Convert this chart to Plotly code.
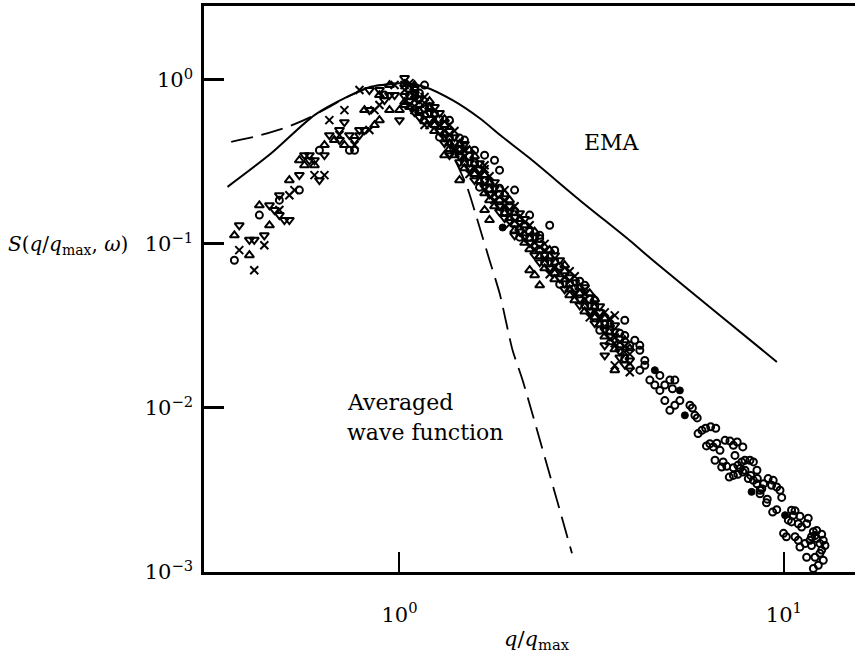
import plotly.graph_objects as go

# ---------------- data ----------------
# EMA curve (solid)
ema_q = [0.357, 0.463, 0.601, 0.733, 0.843, 0.951, 1.03, 1.16, 1.374, 1.614, 1.854, 2.183, 2.944, 3.972, 4.56, 6.81, 9.59]
ema_S = [0.223, 0.356, 0.611, 0.791, 0.910, 0.944, 0.957, 0.910, 0.753, 0.586, 0.449, 0.333, 0.185, 0.105, 0.0796, 0.0368, 0.0191]

# Averaged wave function (dashed)
avg_q = [0.365, 0.419, 0.502, 0.589, 0.733, 0.843, 0.951, 1.03, 1.10, 1.20, 1.30, 1.40, 1.50, 1.615, 1.715, 1.822, 1.969, 2.09, 2.81]
avg_S = [0.420, 0.450, 0.509, 0.596, 0.79, 0.91, 0.944, 0.957, 0.85, 0.65, 0.47, 0.32, 0.222, 0.127, 0.0796, 0.050, 0.0225, 0.0148, 0.0013]

# open circles
circ_q = [0.372, 0.432, 0.487, 0.549, 0.619, 0.741, 0.764, 0.914, 1.162, 1.349, 1.476, 1.568, 1.665, 1.767, 1.821,
          1.993, 2.181, 2.459, 2.316, 2.534, 3.033, 3.221, 3.855,
          1.062, 1.162, 1.271, 1.390, 1.521, 1.665, 1.821, 1.993, 2.181, 2.386, 2.611, 2.857, 3.126, 3.420, 3.742,
          1.062, 1.127, 1.162, 1.233, 1.271, 1.349, 1.433, 1.476, 1.568, 1.615, 1.715, 1.821, 1.877, 1.993, 2.054,
          2.181, 2.316, 2.386, 2.534, 2.611, 2.772, 2.944, 3.033, 3.221, 3.319, 3.524, 3.742, 3.855,
          3.855, 4.094, 4.219, 4.219, 3.973, 4.347, 4.347, 4.219, 4.757, 4.480, 4.616, 4.757, 5.051, 5.204, 4.901,
          5.13, 4.901, 5.204, 5.363, 5.051, 5.695, 5.78, 5.868, 5.95, 5.98, 6.12, 6.26, 6.45, 6.65,
          6.29, 6.42, 6.55, 6.69, 6.82, 7.03, 7.24, 7.39, 7.56, 7.82, 7.46, 6.62, 6.95, 7.10, 6.89, 7.39, 7.59,
          7.77, 7.92, 8.16, 8.33, 7.69, 7.92, 7.21, 7.39, 7.59, 7.82, 8.08, 8.20, 8.51, 8.33, 8.53, 8.67, 8.76,
          8.51, 9.10, 9.38, 9.29, 9.58, 9.77, 9.87, 9.05, 9.01, 8.67, 8.85, 9.35, 9.58, 10.47, 10.69, 10.58,
          11.01, 10.27, 10.47, 10.90, 11.12, 11.57, 11.46, 11.93, 12.05, 12.17, 11.69, 11.80, 12.41, 12.66, 12.79,
          12.54, 12.41, 11.46, 12.05, 12.66, 12.29, 11.93, 9.98, 10.15, 10.69, 10.90, 11.01, 11.35, 11.80, 12.54, 12.17]
circ_S = [0.0796, 0.150, 0.185, 0.213, 0.373, 0.373, 0.373, 0.809, 0.931, 0.569, 0.430, 0.373, 0.348, 0.324, 0.282,
          0.213, 0.150, 0.130, 0.113, 0.0917, 0.0560, 0.0454, 0.0343,
          0.880, 0.665, 0.578, 0.412, 0.343, 0.242, 0.201, 0.144, 0.119, 0.0843, 0.0732, 0.0537, 0.0460, 0.0324, 0.0262,
          0.809, 0.832, 0.611, 0.628, 0.448, 0.448, 0.442, 0.315, 0.315, 0.222, 0.219, 0.219, 0.157, 0.157, 0.110,
          0.110, 0.108, 0.0774, 0.0785, 0.0568, 0.0576, 0.0593, 0.0423, 0.0423, 0.0298, 0.0298, 0.0286, 0.0200,
          0.0277, 0.0259, 0.0241, 0.0225, 0.0241, 0.0195, 0.0182, 0.0170, 0.0158, 0.0148, 0.0138, 0.0128, 0.0148, 0.0148, 0.0138,
          0.0131, 0.0111, 0.0104, 0.0111, 0.00968, 0.0104, 0.0100, 0.00902, 0.0087, 0.00698, 0.00731, 0.00752, 0.00769, 0.00752,
          0.00587, 0.00605, 0.00579, 0.00610, 0.00552, 0.00635, 0.00629, 0.00592, 0.00620, 0.00579, 0.00514, 0.00480, 0.00469, 0.00441, 0.00436, 0.00432, 0.00447,
          0.00469, 0.00480, 0.00480, 0.00469, 0.00427, 0.00417, 0.00379, 0.00388, 0.00394, 0.00407, 0.00371, 0.00388, 0.00417, 0.00362, 0.00371, 0.00300, 0.00322,
          0.00345, 0.00371, 0.00362, 0.00338, 0.00330, 0.00315, 0.00285, 0.00278, 0.00264, 0.00315, 0.00345, 0.00232, 0.00240, 0.00238, 0.00236, 0.00222,
          0.00219, 0.00207, 0.00202, 0.00197, 0.00188, 0.00213, 0.00197, 0.00176, 0.00167, 0.00160, 0.00156, 0.00145, 0.00149, 0.00156, 0.00145,
          0.00136, 0.00130, 0.00123, 0.00123, 0.00118, 0.00110, 0.00105, 0.00172, 0.00164, 0.00164, 0.00156, 0.00142, 0.00149, 0.00164, 0.00170, 0.00179]

# filled circles
dot_q = [4.616, 5.363, 5.526, 8.24, 10.07, 1.855]
dot_S = [0.0170, 0.0128, 0.00902, 0.00308, 0.00222, 0.126]

# crosses
cross_q = [0.445, 0.383, 0.419, 0.487, 0.517, 0.533, 0.601, 0.638, 0.657, 0.719, 0.698, 0.764, 0.835, 0.861, 0.787,
           0.887, 0.971, 1.031, 1.094, 1.094, 1.162, 1.433, 1.665, 1.877, 3.631, 3.631,
           1.031, 1.094, 1.162, 1.233, 1.310, 1.390, 1.476, 1.568, 1.665, 1.767, 1.877, 1.993, 2.116, 2.247, 2.386,
           2.534, 2.690, 2.857, 3.033, 3.221, 3.420, 3.631, 3.855, 3.973,
           1.062, 1.094, 1.162, 1.197, 1.271, 1.349, 1.390, 1.476, 1.521, 1.615, 1.715, 1.767, 1.877, 1.934, 2.054,
           2.181, 2.247, 2.386, 2.459, 2.611, 2.772, 2.857, 3.033, 3.126, 3.319, 3.524, 3.631, 3.855, 3.973]
cross_S = [0.0983, 0.0917, 0.0692, 0.161, 0.198, 0.213, 0.263, 0.263, 0.569, 0.655, 0.461, 0.401, 0.495, 0.655, 0.868,
           0.703, 0.931, 0.931, 0.809, 0.655, 0.531, 0.363, 0.302, 0.213, 0.0367, 0.0182,
           0.868, 0.754, 0.787, 0.578, 0.488, 0.488, 0.343, 0.290, 0.286, 0.201, 0.170, 0.170, 0.119, 0.1016, 0.1002,
           0.0721, 0.0627, 0.0636, 0.0460, 0.0388, 0.0383, 0.0269, 0.0219, 0.0213,
           0.957, 0.693, 0.723, 0.531, 0.531, 0.531, 0.379, 0.373, 0.267, 0.263, 0.259, 0.185, 0.185, 0.132, 0.130,
           0.130, 0.0929, 0.0917, 0.0654, 0.0673, 0.0682, 0.0494, 0.0500, 0.0357, 0.0352, 0.0352, 0.0248, 0.0238, 0.0165]

# triangles (apex up)
tup_q = [0.372, 0.459, 0.407, 0.432, 0.517, 0.549, 0.566, 0.601, 0.638, 0.677, 0.719, 0.861, 0.887, 0.811, 0.887,
         0.942, 1.0, 1.031, 1.094, 0.942, 1.310, 1.433, 1.665, 1.715, 2.181, 2.247, 2.316, 3.631,
         1.031, 1.094, 1.127, 1.162, 1.197, 1.233, 1.310, 1.349, 1.390, 1.433, 1.476, 1.568, 1.615, 1.665, 1.715,
         1.767, 1.877, 1.934, 1.993, 2.054, 2.116, 2.247, 2.316, 2.386, 2.459, 2.534, 2.690, 2.772, 2.857, 2.944,
         3.033, 3.221, 3.319, 3.420, 3.524, 3.631, 3.855, 3.973,
         1.031, 1.062, 1.127, 1.197, 1.233, 1.310, 1.349, 1.433, 1.521, 1.568, 1.665, 1.715, 1.821, 1.934, 1.993,
         2.116, 2.181, 2.316, 2.459, 2.534, 2.690, 2.772, 2.944, 3.126, 3.221, 3.420, 3.524, 3.742, 3.973]
tup_S = [0.113, 0.130, 0.0855, 0.172, 0.245, 0.324, 0.302, 0.302, 0.401, 0.430, 0.401, 0.531, 0.569, 0.655, 0.809,
         0.655, 0.655, 0.703, 0.931, 0.931, 0.348, 0.245, 0.161, 0.140, 0.0692, 0.0645, 0.0560, 0.0170,
         0.733, 0.893, 0.646, 0.561, 0.684, 0.488, 0.578, 0.412, 0.348, 0.407, 0.290, 0.343, 0.242, 0.204, 0.238,
         0.170, 0.201, 0.144, 0.121, 0.142, 0.1016, 0.119, 0.0843, 0.0711, 0.0843, 0.0610, 0.0742, 0.0529, 0.0454, 0.0544,
         0.0388, 0.0460, 0.0324, 0.0273, 0.0324, 0.0228, 0.0259, 0.0179,
         0.944, 0.684, 0.703, 0.743, 0.531, 0.531, 0.379, 0.373, 0.373, 0.267, 0.263, 0.185, 0.185, 0.185, 0.132,
         0.130, 0.0929, 0.0917, 0.0917, 0.0663, 0.0682, 0.0487, 0.0500, 0.0500, 0.0357, 0.0352, 0.0252, 0.0241, 0.0231]

# triangles (apex down)
tdn_q = [0.383, 0.407, 0.419, 0.445, 0.459, 0.473, 0.487, 0.502, 0.517, 0.487, 0.549, 0.566, 0.583, 0.601, 0.583,
         0.619, 0.638, 0.657, 0.719, 0.698, 0.698, 0.741, 0.764, 0.787, 0.811, 0.787, 0.835, 0.835, 0.887, 0.942,
         1.0, 0.971, 0.914, 1.993, 1.349, 3.420, 3.420,
         1.031, 1.062, 1.094, 1.127, 1.197, 1.233, 1.271, 1.310, 1.349, 1.433, 1.476, 1.521, 1.568, 1.615, 1.715,
         1.767, 1.821, 1.877, 1.934, 2.054, 2.116, 2.181, 2.247, 2.316, 2.459, 2.534, 2.611, 2.690, 2.772, 2.944,
         3.033, 3.126, 3.221, 3.319, 3.524, 3.631, 3.742, 3.855,
         1.031, 1.094, 1.127, 1.197, 1.271, 1.310, 1.390, 1.433, 1.521, 1.615, 1.665, 1.767, 1.821, 1.934, 2.054,
         2.116, 2.247, 2.316, 2.459, 2.611, 2.690, 2.857, 2.944, 3.126, 3.319, 3.420, 3.631, 3.742, 3.973]
tdn_S = [0.130, 0.106, 0.106, 0.113, 0.172, 0.161, 0.150, 0.140, 0.140, 0.198, 0.263, 0.348, 0.348, 0.324, 0.324,
         0.245, 0.348, 0.461, 0.553, 0.495, 0.430, 0.461, 0.430, 0.495, 0.495, 0.461, 0.655, 0.868, 0.868, 0.809,
         0.569, 0.809, 0.754, 0.113, 0.348, 0.0241, 0.0209,
         1.027, 0.743, 0.637, 0.765, 0.578, 0.684, 0.488, 0.412, 0.488, 0.343, 0.407, 0.290, 0.245, 0.286, 0.201,
         0.238, 0.170, 0.144, 0.170, 0.119, 0.142, 0.1016, 0.0855, 0.1002, 0.0711, 0.0855, 0.0618, 0.0529, 0.0627, 0.0460,
         0.0544, 0.0388, 0.0329, 0.0383, 0.0273, 0.0319, 0.0222, 0.0184,
         0.798, 0.821, 0.594, 0.628, 0.628, 0.448, 0.448, 0.315, 0.315, 0.311, 0.222, 0.219, 0.157, 0.157, 0.154,
         0.110, 0.110, 0.0774, 0.0774, 0.0796, 0.0576, 0.0584, 0.0423, 0.0423, 0.0417, 0.0298, 0.0294, 0.0203, 0.0195]

x_tickvals = [1, 10]
x_ticktext = ["10<sup>0</sup>", "10<sup>1</sup>"]
y_tickvals = [1, 0.1, 0.01, 0.001]
y_ticktext = ["10<sup>0</sup>", "10<sup>\u22121</sup>", "10<sup>\u22122</sup>", "10<sup>\u22123</sup>"]

# ---------------- figure ----------------
SERIF = "DejaVu Serif"
fig = go.Figure()

fig.add_trace(go.Scatter(x=ema_q, y=ema_S, mode="lines",
                         line=dict(color="black", width=2, shape="spline", smoothing=0.8)))
fig.add_trace(go.Scatter(x=avg_q, y=avg_S, mode="lines",
                         line=dict(color="black", width=1.8, dash="22px,9px", shape="spline", smoothing=0.6)))

def add_pts(q, s, symbol, size, lw):
    fig.add_trace(go.Scatter(x=q, y=s, mode="markers",
                             marker=dict(symbol=symbol, size=size, color="black",
                                         line=dict(color="black", width=lw))))

add_pts(circ_q, circ_S, "circle-open", 7, 2.0)
add_pts(dot_q, dot_S, "circle", 7, 1)
add_pts(cross_q, cross_S, "x-thin-open", 8, 2.0)
add_pts(tup_q, tup_S, "triangle-up-open", 8, 2.0)
add_pts(tdn_q, tdn_S, "triangle-down-open", 8, 2.0)

fig.update_layout(
    width=855, height=655,
    margin=dict(l=204, r=0, t=6, b=83, autoexpand=False),
    plot_bgcolor="white", paper_bgcolor="white",
    showlegend=False,
    font=dict(family=SERIF, color="black", size=21),
)
fig.update_xaxes(type="log", range=[-0.5085, 1.185], showline=True, linecolor="black", linewidth=2.5,
                 mirror=True, showgrid=False, zeroline=False,
                 ticks="inside", ticklen=20, tickwidth=1.5, tickcolor="black",
                 tickvals=x_tickvals, ticktext=x_ticktext, ticklabelstandoff=22,
                 tickfont=dict(family=SERIF, size=21))
fig.update_yaxes(type="log", range=[-3.0, 0.451], showline=True, linecolor="black", linewidth=2.5,
                 mirror=False, showgrid=False, zeroline=False,
                 ticks="inside", ticklen=20, tickwidth=2.5, tickcolor="black",
                 tickvals=y_tickvals, ticktext=y_ticktext, ticklabelstandoff=4,
                 tickfont=dict(family=SERIF, size=21))

ann_font = dict(family=SERIF, size=22, color="black")
fig.add_annotation(text="EMA", xref="paper", yref="paper", x=0.627, y=0.758,
                   xanchor="center", yanchor="middle", showarrow=False, font=ann_font)
fig.add_annotation(text="Averaged", xref="paper", yref="paper", x=0.2166, y=0.2986,
                   xanchor="left", yanchor="middle", showarrow=False, font=ann_font)
fig.add_annotation(text="wave function", xref="paper", yref="paper", x=0.2166, y=0.2456,
                   xanchor="left", yanchor="middle", showarrow=False, font=ann_font)
fig.add_annotation(text="<i>S</i>(<i>q</i>/<i>q</i><sub>max</sub>, <i>\u03c9</i>)",
                   xref="paper", yref="paper", x=-0.304, y=0.578, xanchor="left", yanchor="middle",
                   showarrow=False, font=dict(family=SERIF, size=20, color="black"))
fig.add_annotation(text="<i>q</i>/<i>q</i><sub>max</sub>",
                   xref="paper", yref="paper", x=0.5115, y=-0.120,
                   xanchor="center", yanchor="middle",
                   showarrow=False, font=dict(family=SERIF, size=21, color="black"))

fig.write_html("out.html", config={"displayModeBar": False},
               post_script="document.body.style.margin='0';")
